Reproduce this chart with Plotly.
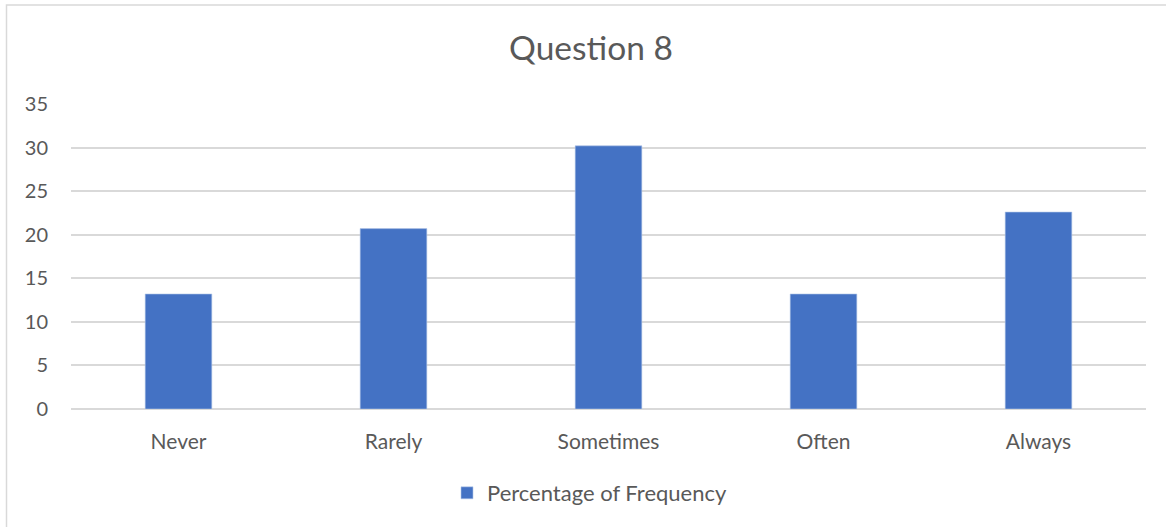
import plotly.graph_objects as go

categories = ["Never", "Rarely", "Sometimes", "Often", "Always"]
percentages = [13.2, 20.7, 30.2, 13.2, 22.6]
series_name = "Percentage of Frequency"
y_ticks = [0, 5, 10, 15, 20, 25, 30, 35]

FONT = "Lato, Open Sans, sans-serif"
TEXT = "#595959"
GRID = "#d9d9d9"

fig = go.Figure(
    go.Bar(
        x=categories,
        y=percentages,
        name=series_name,
        marker=dict(color="#4472C4", line=dict(color="#b4c7e7", width=0.6)),
        showlegend=True,
    )
)

W, H = 1166, 527
ml, mr, mt, mb = 71, 20, 104, 118
pw = W - ml - mr
ph = H - mt - mb

def px_x(px):
    return (px - ml) / pw

def px_y(py):
    return (H - mb - py) / ph

fig.update_layout(
    width=W,
    height=H,
    margin=dict(l=ml, r=mr, t=mt, b=mb, pad=0),
    paper_bgcolor="white",
    plot_bgcolor="white",
    font=dict(family=FONT, color=TEXT, size=21),
    title=dict(
        text="Question 8",
        x=591 / W,
        xref="container",
        xanchor="center",
        y=1 - 48 / H,
        yanchor="middle",
        font=dict(size=33.5, color=TEXT, family=FONT),
    ),
    bargap=0.69,
    showlegend=True,
    legend=dict(
        orientation="h",
        x=px_x(447),
        xanchor="left",
        y=px_y(493),
        yanchor="middle",
        font=dict(size=22, color=TEXT),
        itemwidth=30,
    ),
    xaxis=dict(
        showgrid=False,
        showline=False,
        zeroline=False,
        ticks="",
        ticklabelstandoff=18,
        tickfont=dict(size=21, color=TEXT),
    ),
    yaxis=dict(
        range=[0, 35],
        tickvals=y_ticks,
        showgrid=True,
        gridcolor=GRID,
        gridwidth=1.5,
        zeroline=True,
        zerolinecolor=GRID,
        zerolinewidth=1.5,
        showline=False,
        ticks="",
        ticklabelstandoff=22,
        tickfont=dict(size=20, color=TEXT),
    ),
    shapes=[
        dict(
            type="rect",
            xref="paper",
            yref="paper",
            x0=px_x(6.5),
            x1=px_x(1175),
            y0=px_y(535),
            y1=px_y(5),
            line=dict(color=GRID, width=1.5),
            fillcolor="rgba(0,0,0,0)",
            layer="below",
        )
    ],
)

fig.write_html("out.html")
